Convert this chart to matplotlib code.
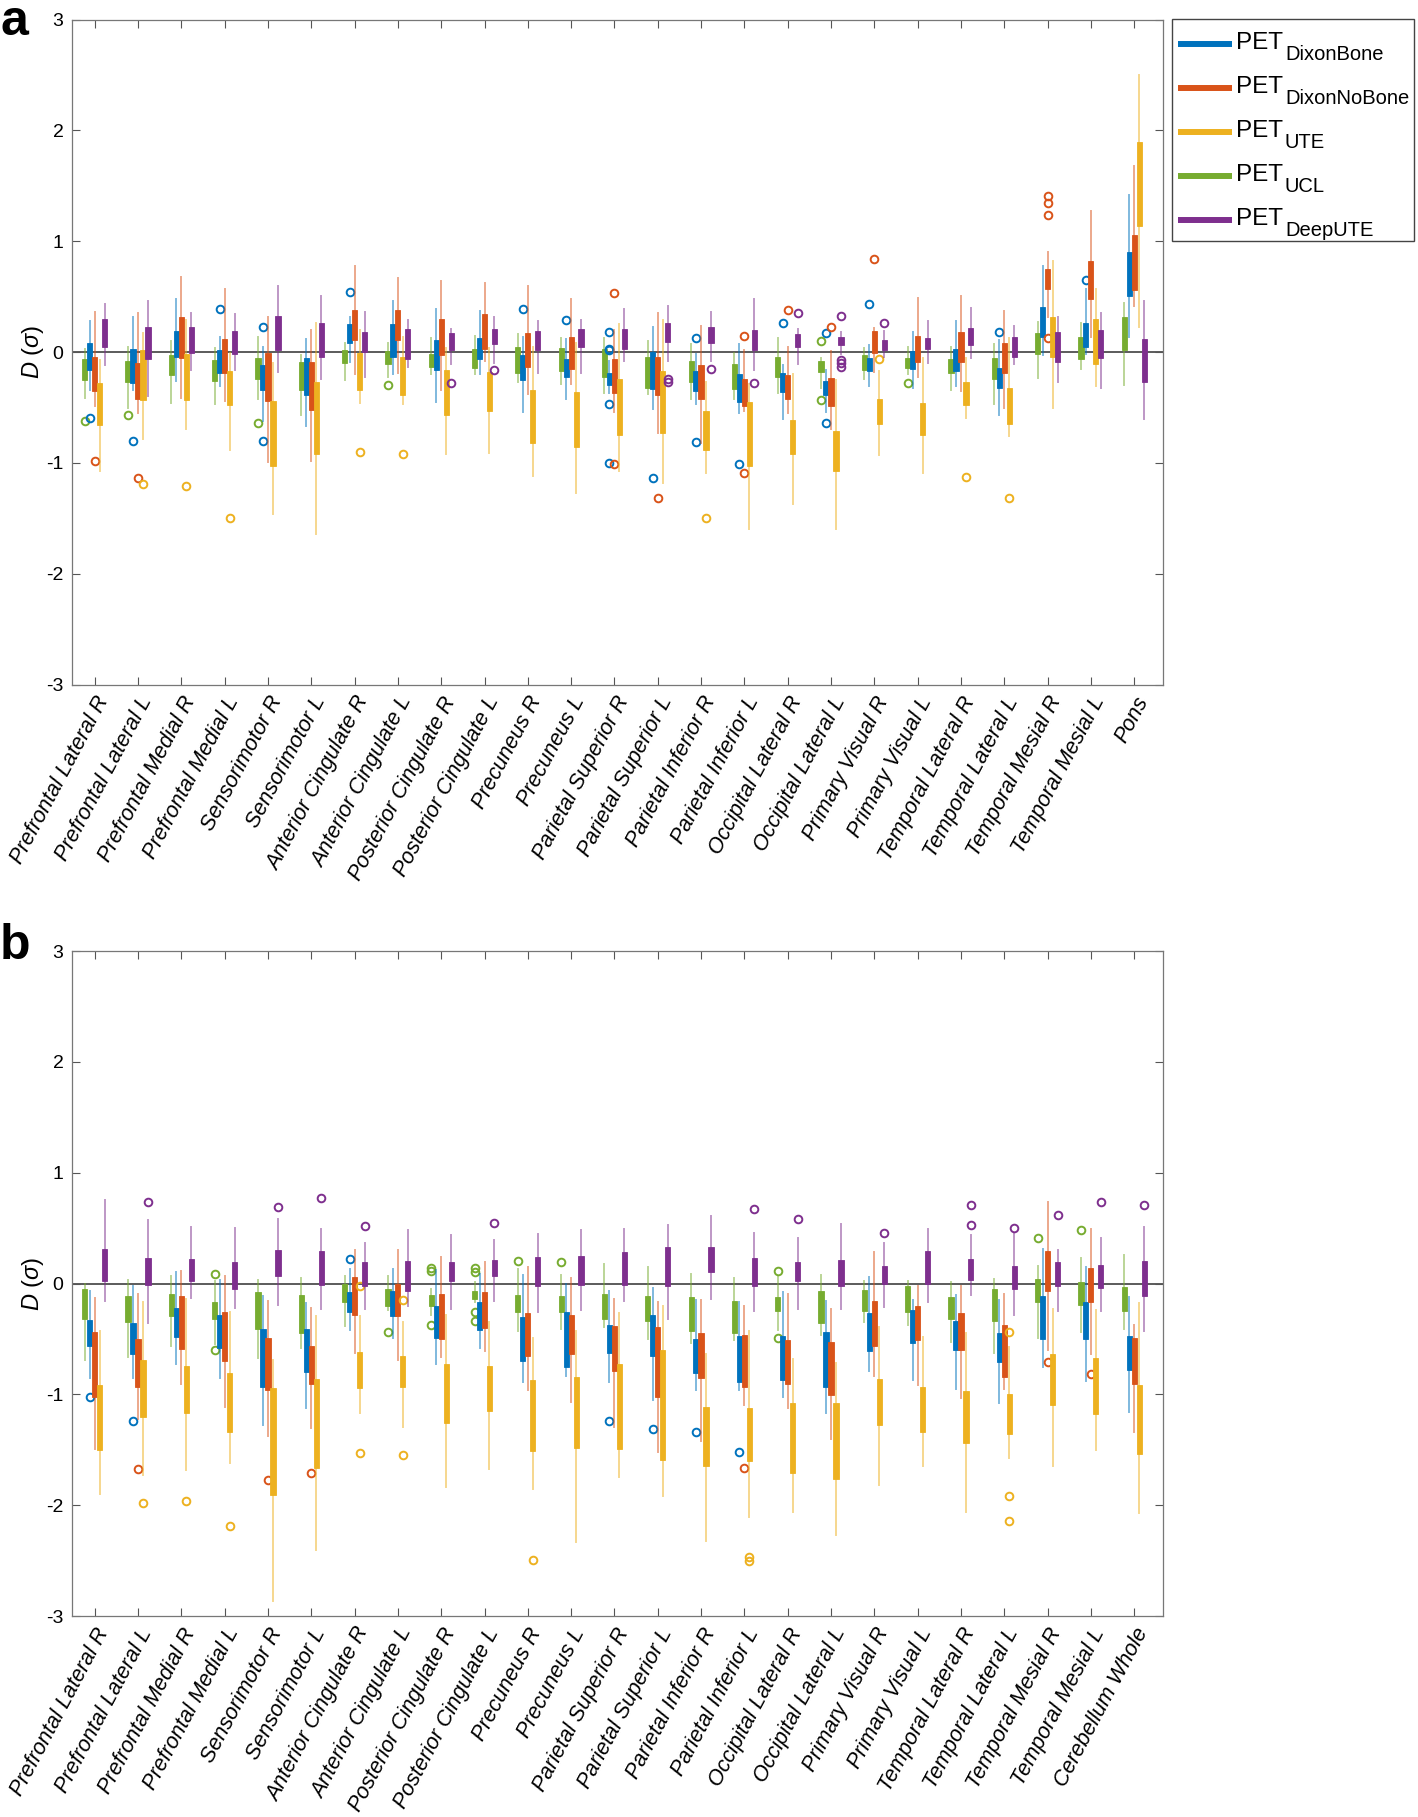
import numpy as np
import matplotlib
matplotlib.use('Agg')
import matplotlib.pyplot as plt
from matplotlib.lines import Line2D
from matplotlib.patches import Rectangle

plt.rcParams['font.family'] = ['Liberation Sans', 'DejaVu Sans']
plt.rcParams['mathtext.fontset'] = 'custom'
plt.rcParams['mathtext.rm'] = 'Liberation Sans'
plt.rcParams['mathtext.it'] = 'Liberation Sans:italic'
plt.rcParams['axes.unicode_minus'] = False

regions = ['Prefrontal Lateral R', 'Prefrontal Lateral L', 'Prefrontal Medial R',
           'Prefrontal Medial L', 'Sensorimotor R', 'Sensorimotor L',
           'Anterior Cingulate R', 'Anterior Cingulate L', 'Posterior Cingulate R',
           'Posterior Cingulate L', 'Precuneus R', 'Precuneus L', 'Parietal Superior R',
           'Parietal Superior L', 'Parietal Inferior R', 'Parietal Inferior L',
           'Occipital Lateral R', 'Occipital Lateral L', 'Primary Visual R',
           'Primary Visual L', 'Temporal Lateral R', 'Temporal Lateral L',
           'Temporal Mesial R', 'Temporal Mesial L']
labels_a = regions + ['Pons']
labels_b = regions + ['Cerebellum Whole']

# each row: (lower whisker, q1, q3, upper whisker); outliers: (region number, value)
# ---- panel a ----
green_a = [(-0.41, -0.25, -0.06, 0.03), (-0.50, -0.27, -0.08, 0.05), (-0.46, -0.21, -0.03, 0.10),
           (-0.47, -0.26, -0.07, 0.04), (-0.42, -0.24, -0.05, 0.14), (-0.57, -0.34, -0.09, -0.03),
           (-0.25, -0.10, 0.02, 0.08), (-0.22, -0.11, 0.01, 0.08), (-0.20, -0.13, -0.02, 0.13),
           (-0.20, -0.14, 0.03, 0.15), (-0.27, -0.19, 0.05, 0.16), (-0.29, -0.17, 0.04, 0.13),
           (-0.37, -0.22, 0.03, 0.13), (-0.38, -0.32, -0.04, 0.10), (-0.42, -0.27, -0.08, 0.07),
           (-0.42, -0.33, -0.11, -0.01), (-0.37, -0.22, -0.04, 0.13), (-0.32, -0.18, -0.08, -0.05),
           (-0.24, -0.16, -0.03, 0.04), (-0.20, -0.14, -0.05, 0.05), (-0.34, -0.19, -0.06, 0.05),
           (-0.47, -0.24, -0.05, 0.07), (-0.23, -0.02, 0.17, 0.27), (-0.15, -0.06, 0.14, 0.26),
           (-0.30, 0.02, 0.32, 0.44)]
green_a_out = [(1, -0.62), (2, -0.57), (5, -0.64), (8, -0.30), (18, 0.10), (18, -0.43), (20, -0.28)]

blue_a = [(-0.34, -0.16, 0.08, 0.28), (-0.34, -0.28, 0.03, 0.32), (-0.26, -0.04, 0.19, 0.48),
          (-0.31, -0.19, 0.02, 0.14), (-0.62, -0.34, -0.12, 0.05), (-0.67, -0.39, -0.05, 0.12),
          (-0.09, 0.08, 0.25, 0.32), (-0.20, -0.04, 0.25, 0.46), (-0.45, -0.16, 0.11, 0.39),
          (-0.20, -0.06, 0.13, 0.37), (-0.54, -0.25, -0.03, 0.14), (-0.42, -0.22, -0.06, 0.12),
          (-0.37, -0.30, -0.19, -0.08), (-0.51, -0.33, 0.00, 0.23), (-0.47, -0.35, -0.17, -0.02),
          (-0.55, -0.45, -0.20, 0.07), (-0.60, -0.36, -0.19, -0.12), (-0.54, -0.39, -0.26, -0.16),
          (-0.31, -0.17, -0.05, 0.06), (-0.32, -0.15, 0.01, 0.18), (-0.31, -0.17, 0.03, 0.28),
          (-0.57, -0.32, -0.14, 0.11), (-0.03, 0.14, 0.41, 0.78), (-0.02, 0.05, 0.26, 0.57),
          (0.14, 0.51, 0.90, 1.42)]
blue_a_out = [(1, -0.59), (2, -0.80), (4, 0.39), (5, 0.23), (5, -0.80), (7, 0.54), (11, 0.39),
              (12, 0.29), (13, 0.18), (13, 0.02), (13, 0.03), (13, -0.47), (13, -1.00), (14, -1.14),
              (15, 0.13), (15, -0.81), (16, -1.01), (17, 0.26), (18, 0.17), (18, -0.64), (19, 0.43),
              (22, 0.18), (24, 0.65)]

red_a = [(-0.49, -0.35, -0.04, 0.36), (-0.55, -0.42, -0.10, 0.35), (-0.41, -0.05, 0.32, 0.68),
         (-0.44, -0.19, 0.12, 0.57), (-0.99, -0.44, -0.01, 0.32), (-0.98, -0.52, -0.09, 0.20),
         (-0.20, 0.11, 0.38, 0.78), (-0.19, 0.11, 0.38, 0.67), (-0.34, -0.03, 0.30, 0.64),
         (-0.08, 0.03, 0.34, 0.62), (-0.38, -0.13, 0.17, 0.60), (-0.29, -0.15, 0.14, 0.48),
         (-0.54, -0.37, -0.06, 0.20), (-0.73, -0.39, -0.04, 0.35), (-0.82, -0.42, -0.12, 0.24),
         (-0.53, -0.49, -0.24, 0.02), (-0.55, -0.42, -0.21, 0.05), (-0.69, -0.49, -0.23, 0.01),
         (-0.18, -0.01, 0.19, 0.22), (-0.22, -0.09, 0.15, 0.49), (-0.35, -0.09, 0.18, 0.51),
         (-0.50, -0.19, 0.08, 0.37), (0.32, 0.57, 0.75, 0.90), (0.14, 0.48, 0.82, 1.27),
         (0.42, 0.56, 1.06, 1.68)]
red_a_out = [(1, -0.98), (2, -1.14), (13, 0.53), (13, -1.01), (14, -1.32), (16, 0.15), (16, -1.09),
             (17, 0.38), (18, 0.23), (19, 0.84), (23, 1.41), (23, 1.35), (23, 1.24), (23, 0.13)]

yellow_a = [(-1.07, -0.66, -0.28, -0.07), (-0.78, -0.43, 0.02, 0.17), (-0.69, -0.43, -0.02, 0.29),
            (-0.88, -0.48, -0.17, -0.01), (-1.46, -1.03, -0.44, -0.10), (-1.64, -0.92, -0.27, 0.26),
            (-0.46, -0.34, -0.01, 0.20), (-0.47, -0.39, -0.04, 0.14), (-0.92, -0.57, -0.16, 0.04),
            (-0.91, -0.53, -0.18, 0.04), (-1.12, -0.82, -0.34, 0.05), (-1.27, -0.86, -0.36, 0.08),
            (-1.07, -0.75, -0.24, 0.25), (-1.18, -0.73, -0.17, 0.29), (-1.09, -0.88, -0.53, -0.27),
            (-1.60, -1.03, -0.45, -0.29), (-1.37, -0.92, -0.61, -0.20), (-1.60, -1.07, -0.71, -0.25),
            (-0.93, -0.65, -0.42, -0.17), (-1.09, -0.75, -0.46, -0.05), (-0.59, -0.48, -0.27, -0.05),
            (-0.76, -0.65, -0.32, 0.13), (-0.50, -0.04, 0.32, 0.82), (-0.31, -0.11, 0.30, 0.57),
            (0.23, 1.14, 1.90, 2.50)]
yellow_a_out = [(2, -1.19), (3, -1.21), (4, -1.50), (7, -0.90), (8, -0.92), (15, -1.50),
                (19, -0.06), (21, -1.13), (22, -1.32)]

purple_a = [(-0.12, 0.05, 0.30, 0.43), (-0.40, -0.06, 0.23, 0.46), (-0.16, -0.01, 0.23, 0.35),
            (-0.16, -0.02, 0.19, 0.34), (-0.18, 0.02, 0.33, 0.60), (-0.24, -0.04, 0.26, 0.51),
            (-0.22, 0.00, 0.18, 0.36), (-0.13, -0.06, 0.21, 0.29), (-0.11, 0.02, 0.17, 0.21),
            (-0.10, 0.07, 0.21, 0.32), (-0.19, 0.02, 0.19, 0.28), (-0.19, 0.05, 0.21, 0.29),
            (-0.08, 0.03, 0.21, 0.39), (-0.08, 0.09, 0.26, 0.42), (-0.08, 0.08, 0.23, 0.36),
            (-0.16, 0.02, 0.20, 0.48), (-0.11, 0.05, 0.16, 0.21), (-0.02, 0.06, 0.14, 0.18),
            (-0.04, 0.02, 0.11, 0.19), (-0.10, 0.03, 0.13, 0.28), (-0.05, 0.06, 0.22, 0.40),
            (-0.11, -0.04, 0.14, 0.24), (-0.27, -0.09, 0.18, 0.32), (-0.32, -0.05, 0.20, 0.35),
            (-0.60, -0.27, 0.12, 0.46)]
purple_a_out = [(9, -0.28), (10, -0.16), (14, -0.24), (14, -0.27), (15, -0.15), (16, -0.28),
                (17, 0.35), (18, 0.33), (18, -0.07), (18, -0.10), (18, -0.13), (19, 0.26)]

# ---- panel b ----
green_b = [(-0.69, -0.32, -0.05, 0.00), (-0.66, -0.35, -0.11, 0.03), (-0.56, -0.29, -0.09, 0.07),
           (-0.55, -0.32, -0.17, 0.02), (-0.67, -0.41, -0.08, 0.03), (-0.58, -0.45, -0.10, 0.05),
           (-0.38, -0.17, 0.00, 0.07), (-0.24, -0.20, -0.05, 0.07), (-0.28, -0.20, -0.10, -0.05),
           (-0.17, -0.14, -0.07, 0.01), (-0.43, -0.26, -0.10, 0.13), (-0.41, -0.26, -0.11, 0.08),
           (-0.39, -0.32, -0.09, 0.18), (-0.50, -0.34, -0.11, 0.15), (-0.54, -0.43, -0.12, 0.09),
           (-0.51, -0.45, -0.16, 0.05), (-0.42, -0.25, -0.12, 0.07), (-0.46, -0.36, -0.07, 0.08),
           (-0.35, -0.25, -0.06, 0.02), (-0.37, -0.26, -0.02, 0.02), (-0.53, -0.32, -0.12, 0.01),
           (-0.63, -0.34, -0.05, 0.04), (-0.49, -0.17, 0.04, 0.16), (-0.44, -0.19, 0.01, 0.23),
           (-0.41, -0.25, -0.03, 0.26)]
green_b_out = [(4, 0.09), (4, -0.60), (8, -0.44), (9, 0.14), (9, 0.11), (9, -0.37), (10, 0.14),
               (10, 0.10), (10, -0.26), (10, -0.34), (11, 0.20), (12, 0.19), (17, 0.11),
               (17, -0.49), (23, 0.41), (24, 0.48)]

blue_b = [(-0.85, -0.56, -0.33, -0.07), (-0.85, -0.64, -0.36, -0.02), (-0.73, -0.48, -0.22, 0.10),
          (-0.85, -0.58, -0.28, 0.03), (-1.28, -0.93, -0.41, -0.11), (-1.12, -0.80, -0.41, -0.18),
          (-0.42, -0.26, -0.08, 0.13), (-0.49, -0.29, -0.07, 0.13), (-0.73, -0.49, -0.20, 0.12),
          (-0.58, -0.42, -0.17, 0.09), (-0.89, -0.70, -0.30, 0.08), (-0.83, -0.75, -0.26, 0.00),
          (-0.89, -0.63, -0.37, -0.07), (-1.05, -0.65, -0.28, -0.04), (-0.96, -0.81, -0.50, -0.15),
          (-0.96, -0.89, -0.47, -0.17), (-1.02, -0.87, -0.47, -0.08), (-1.17, -0.93, -0.44, -0.16),
          (-0.79, -0.61, -0.27, 0.06), (-0.87, -0.54, -0.24, -0.15), (-0.95, -0.60, -0.34, -0.10),
          (-1.08, -0.71, -0.45, -0.15), (-0.75, -0.50, -0.11, 0.31), (-0.88, -0.50, -0.17, 0.15),
          (-1.16, -0.78, -0.47, -0.12)]
blue_b_out = [(1, -1.02), (2, -1.24), (7, 0.22), (13, -1.24), (14, -1.31), (15, -1.34), (16, -1.52)]

red_b = [(-1.49, -1.02, -0.44, -0.13), (-1.22, -0.93, -0.50, -0.09), (-0.91, -0.59, -0.11, 0.11),
         (-1.11, -0.70, -0.26, 0.07), (-1.38, -0.96, -0.49, -0.16), (-1.30, -0.91, -0.56, -0.22),
         (-0.63, -0.28, 0.06, 0.30), (-0.69, -0.29, 0.00, 0.30), (-0.66, -0.50, -0.09, 0.24),
         (-0.61, -0.40, -0.08, 0.19), (-0.96, -0.65, -0.27, 0.15), (-1.07, -0.64, -0.28, 0.05),
         (-1.29, -0.79, -0.38, -0.14), (-1.52, -1.02, -0.39, -0.17), (-1.42, -0.85, -0.45, -0.15),
         (-1.10, -0.93, -0.46, -0.20), (-1.12, -0.91, -0.51, -0.09), (-1.40, -1.01, -0.53, -0.23),
         (-0.83, -0.56, -0.16, 0.28), (-0.92, -0.51, -0.20, -0.02), (-1.03, -0.60, -0.27, -0.02),
         (-0.95, -0.84, -0.37, -0.09), (-0.60, -0.07, 0.29, 0.74), (-0.64, -0.17, 0.14, 0.49),
         (-1.34, -0.91, -0.49, -0.37)]
red_b_out = [(2, -1.67), (5, -1.77), (6, -1.71), (16, -1.66), (23, -0.71), (24, -0.82)]

yellow_b = [(-1.90, -1.50, -0.92, -0.43), (-1.73, -1.20, -0.69, -0.17), (-1.68, -1.17, -0.74, -0.14),
            (-1.62, -1.34, -0.81, -0.26), (-2.86, -1.91, -0.94, -0.69), (-2.40, -1.66, -0.86, -0.29),
            (-1.17, -0.94, -0.62, -0.29), (-1.29, -0.93, -0.65, -0.35), (-1.84, -1.26, -0.73, -0.28),
            (-1.67, -1.15, -0.74, -0.35), (-1.85, -1.51, -0.87, -0.49), (-2.33, -1.48, -0.84, -0.43),
            (-1.75, -1.49, -0.73, -0.27), (-1.92, -1.59, -0.60, -0.20), (-2.32, -1.65, -1.11, -0.64),
            (-2.11, -1.60, -1.12, -0.43), (-2.06, -1.71, -1.08, -0.68), (-2.27, -1.76, -1.08, -0.72),
            (-1.82, -1.28, -0.86, -0.39), (-1.65, -1.34, -0.93, -0.48), (-2.06, -1.44, -0.97, -0.45),
            (-1.57, -1.36, -1.00, -0.57), (-1.65, -1.10, -0.64, -0.23), (-1.50, -1.18, -0.67, -0.24),
            (-2.07, -1.54, -0.92, -0.18)]
yellow_b_out = [(2, -1.98), (3, -1.96), (4, -2.19), (7, -1.53), (7, -0.02), (8, -1.55), (8, -0.15),
                (11, -2.49), (16, -2.50), (16, -2.47), (22, -1.92), (22, -2.14), (22, -0.44)]

purple_b = [(-0.16, 0.02, 0.31, 0.75), (-0.36, -0.01, 0.23, 0.57), (-0.13, 0.02, 0.22, 0.51),
            (-0.22, -0.05, 0.19, 0.50), (-0.19, 0.07, 0.30, 0.58), (-0.23, -0.01, 0.29, 0.49),
            (-0.23, -0.02, 0.19, 0.37), (-0.20, -0.07, 0.20, 0.48), (-0.23, 0.02, 0.19, 0.44),
            (-0.16, 0.07, 0.21, 0.39), (-0.26, -0.02, 0.24, 0.45), (-0.24, -0.01, 0.25, 0.48),
            (-0.16, -0.01, 0.28, 0.49), (-0.32, -0.02, 0.33, 0.53), (-0.14, 0.10, 0.33, 0.61),
            (-0.25, -0.02, 0.23, 0.46), (-0.23, 0.02, 0.19, 0.41), (-0.23, -0.02, 0.21, 0.54),
            (-0.21, 0.00, 0.16, 0.37), (-0.17, 0.00, 0.29, 0.49), (-0.10, 0.03, 0.22, 0.44),
            (-0.28, -0.05, 0.16, 0.46), (-0.25, -0.02, 0.19, 0.30), (-0.25, -0.04, 0.17, 0.41),
            (-0.43, -0.11, 0.20, 0.51)]
purple_b_out = [(2, 0.74), (5, 0.69), (6, 0.77), (7, 0.52), (10, 0.55), (16, 0.67), (17, 0.58),
                (19, 0.46), (21, 0.53), (21, 0.71), (22, 0.50), (23, 0.62), (24, 0.74), (25, 0.71)]

c_blue, c_red, c_yellow, c_green, c_purple = '#0072BD', '#D95319', '#EDB120', '#77AC30', '#7E2F8E'
legend_names = ['DixonBone', 'DixonNoBone', 'UTE', 'UCL', 'DeepUTE']
legend_colors = [c_blue, c_red, c_yellow, c_green, c_purple]

# order of the boxes inside a group, left to right
offsets = [-0.23, -0.115, 0.0, 0.115, 0.23]

W, H = 1418, 1817


def make_stats(rows, outs):
    stats = []
    for i, (wlo, q1, q3, whi) in enumerate(rows):
        fl = [v for g, v in outs if g == i + 1]
        stats.append(dict(med=(q1 + q3) / 2, q1=q1, q3=q3, whislo=wlo, whishi=whi,
                          fliers=np.array(fl)))
    return stats


def draw_panel(ax, series, labels):
    for k, (rows, outs, col) in enumerate(series):
        pos = np.arange(1, len(rows) + 1) + offsets[k]
        ax.bxp(make_stats(rows, outs), positions=pos, widths=0.12, patch_artist=True,
               showcaps=False, manage_ticks=False,
               boxprops=dict(facecolor=col, edgecolor=col, linewidth=0.6),
               whiskerprops=dict(color=col, linewidth=1.4, alpha=0.5),
               medianprops=dict(visible=False),
               flierprops=dict(marker='o', markerfacecolor='none', markeredgecolor=col,
                               markersize=5.5, markeredgewidth=1.4))
    ax.axhline(0, color='#404040', linewidth=1.2, zorder=0.5)
    ax.set_xlim(0.47, 25.66)
    ax.set_ylim(-3, 3)
    ax.set_yticks(np.arange(-3, 4))
    ax.set_xticks(np.arange(1, len(labels) + 1))
    ax.set_xticklabels(labels, rotation=62, ha='right', rotation_mode='anchor',
                       fontstyle='italic', fontsize=15.5)
    ax.tick_params(direction='in', top=True, right=True, length=6, width=0.8,
                   color='#555555', labelsize=14, pad=6)
    ax.tick_params(axis='x', labelsize=15.5)
    for s in ax.spines.values():
        s.set_color('#777777')
        s.set_linewidth(0.9)
    ax.set_ylabel(r'$D$ ($\sigma$)', fontsize=17, labelpad=0)


fig = plt.figure(figsize=(W / 100, H / 100), dpi=100)
ax_a = fig.add_axes([0.0506, 0.6232, 0.7694, 0.366])
ax_b = fig.add_axes([0.0506, 0.1106, 0.7694, 0.366])

draw_panel(ax_a, [(green_a, green_a_out, c_green), (blue_a, blue_a_out, c_blue),
                  (red_a, red_a_out, c_red), (yellow_a, yellow_a_out, c_yellow),
                  (purple_a, purple_a_out, c_purple)], labels_a)
draw_panel(ax_b, [(green_b, green_b_out, c_green), (blue_b, blue_b_out, c_blue),
                  (red_b, red_b_out, c_red), (yellow_b, yellow_b_out, c_yellow),
                  (purple_b, purple_b_out, c_purple)], labels_b)

# legend drawn by hand so the subscript can be as large as in the original (pixel positions)
fig.add_artist(Rectangle((1171.5 / W, 1 - 241.5 / H), 242.5 / W, 222.5 / H,
                         transform=fig.transFigure, fill=False, edgecolor='#444444',
                         linewidth=1.0))
for i, (name, col) in enumerate(zip(legend_names, legend_colors)):
    yl = 44.3 + 44 * i
    fig.add_artist(Line2D([1178 / W, 1232 / W], [1 - yl / H, 1 - yl / H],
                          transform=fig.transFigure, color=col, linewidth=4.3,
                          solid_capstyle='butt'))
    fig.text(1236 / W, 1 - (yl + 4.5) / H, 'PET', fontsize=17.5, va='baseline')
    fig.text(1285 / W, 1 - (yl + 15.5) / H, name, fontsize=14.5, va='baseline')

fig.text(0.0, 1 - 35 / H, 'a', fontsize=36, fontweight='bold', va='baseline')
fig.text(0.0, 1 - 959 / H, 'b', fontsize=36, fontweight='bold', va='baseline')

fig.savefig('out.png', dpi=100)
